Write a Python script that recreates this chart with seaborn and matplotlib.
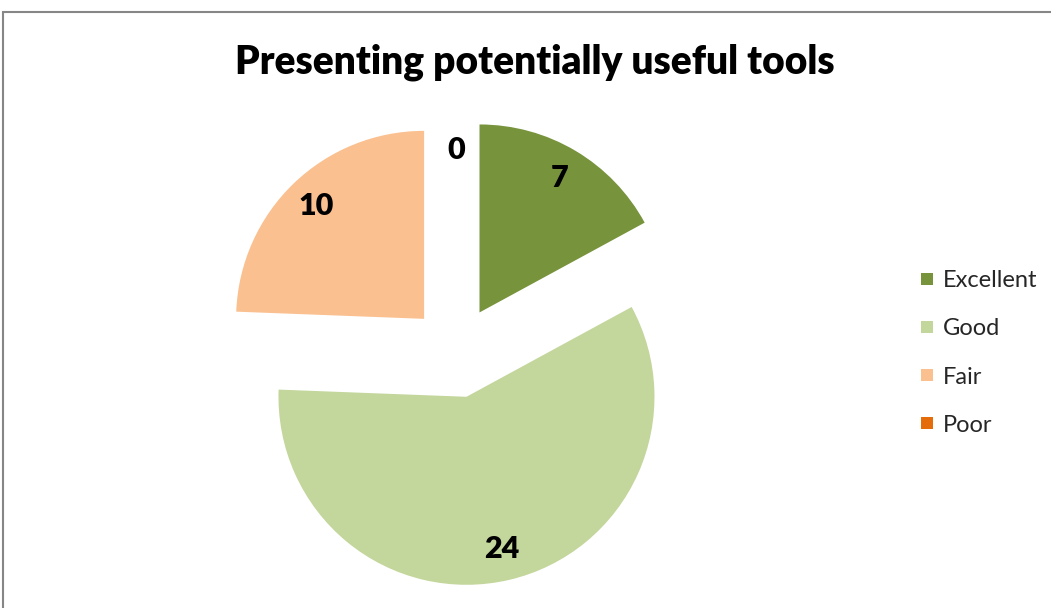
import matplotlib
matplotlib.use("Agg")
import matplotlib.pyplot as plt
from matplotlib.lines import Line2D
from matplotlib.patches import Rectangle
import seaborn as sns

categories = ["Excellent", "Good", "Fair", "Poor"]
counts = [7, 24, 10, 0]
colors = ["#77933C", "#C3D69B", "#FAC090", "#E46C0A"]
title = "Presenting potentially useful tools"

sns.set_theme(style="white")
plt.rcParams["font.family"] = ["Lato", "DejaVu Sans"]

fig = plt.figure(figsize=(10.51, 6.08), dpi=100)
ax = fig.add_axes([0, 0, 1, 1])

total = sum(counts)
wedges, texts, autotexts = ax.pie(
    counts, colors=colors, startangle=90, counterclock=False,
    explode=[46] * len(counts), center=(456, 256), radius=188,
    autopct=lambda p: f"{round(p * total / 100)}", pctdistance=0.83,
    textprops=dict(fontsize=22, fontweight="heavy", color="black"),
    wedgeprops=dict(linewidth=0))

ax.set_xlim(0, 1051)
ax.set_ylim(0, 608)
ax.set_aspect("equal")
ax.axis("off")

# grey chart border (right/bottom edges run off the image)
fig.patches.append(Rectangle((3 / 1051, -0.1), 2, 1.1 - 12 / 608,
                             transform=fig.transFigure, fill=False,
                             edgecolor="#868686", linewidth=1.5))

fig.text(535 / 1051, 1 - 62 / 608, title, ha="center", va="center",
         fontsize=28, fontweight="heavy", color="black")

handles = [Line2D([], [], marker="s", linestyle="none", markersize=9,
                  markerfacecolor=c, markeredgewidth=0) for c in colors]
fig.legend(handles, categories, loc="center left",
           bbox_to_anchor=(899 / 1051, 1 - 353 / 608), frameon=False,
           fontsize=17, labelspacing=1.15, handlelength=0.6,
           handletextpad=0.35)

fig.savefig("out.png", dpi=100)
